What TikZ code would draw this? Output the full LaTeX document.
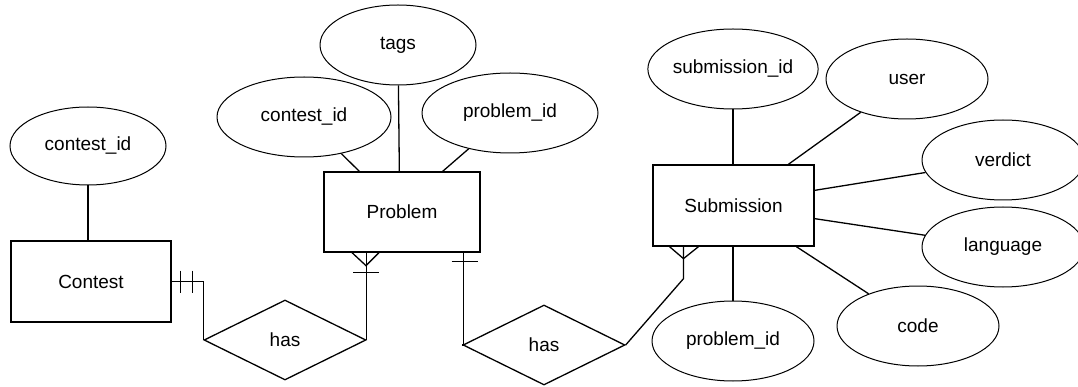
\documentclass[tikz,border=0pt]{standalone}
\usepackage{fontspec}
\setmainfont{Liberation Sans}
\usetikzlibrary{shapes.geometric}
\tikzset{
  attr/.style={draw, ellipse, line width=1pt, inner sep=0pt, minimum width=162pt, minimum height=80pt, font=\fontsize{19}{22}\selectfont},
  entity/.style={draw, rectangle, line width=1.3pt, inner sep=0pt, font=\fontsize{19}{22}\selectfont},
  rel/.style={draw, diamond, line width=1.3pt, inner sep=0pt, minimum width=162pt, minimum height=80pt, font=\fontsize{19}{22}\selectfont},
  link/.style={line width=1.3pt},
}
\begin{document}
\begin{tikzpicture}[x=1pt,y=-1pt]
\useasboundingbox (0,0) rectangle (1078,387);
% entities
\node[entity, minimum width=160pt, minimum height=81pt] (contest) at (91,281.5) {Contest};
\node[entity, minimum width=156pt, minimum height=80pt] (problem) at (402,212) {Problem};
\node[entity, minimum width=161pt, minimum height=81pt] (submission) at (733.5,205.5) {Submission};
% attributes
\node[attr, minimum width=156pt, minimum height=78pt] (ccid) at (88,146) {contest\_id};
\node[attr, minimum width=156pt] (tags) at (398,45) {tags};
\node[attr, minimum width=174pt] (pcid) at (304,117) {contest\_id};
\node[attr, minimum width=176pt] (ppid) at (510,113) {problem\_id};
\node[attr] (sid) at (733,69) {submission\_id};
\node[attr] (user) at (907,79) {user};
\node[attr] (verdict) at (1003,160) {verdict};
\node[attr] (language) at (1003,247) {language};
\node[attr] (code) at (918,326) {code};
\node[attr] (spid) at (733,341) {problem\_id};
% relationships
\node[rel] (has1) at (285,340) {has};
\node[rel] (has2) at (544,345) {has};
% attribute links
\draw[link] (ccid) -- (ccid |- contest.north);
\draw[link] (tags) -- ([xshift=76pt]problem.north west);
\draw[link] (pcid) -- ([xshift=36pt]problem.north west);
\draw[link] (ppid) -- ([xshift=-38pt]problem.north east);
\draw[link] (sid) -- (sid |- submission.north);
\draw[link] (user) -- ([xshift=136pt]submission.north west);
\draw[link] (verdict) -- ([yshift=-26pt]submission.north east);
\draw[link] (language) -- ([yshift=28pt]submission.south east);
\draw[link] (code) -- ([xshift=144pt]submission.south west);
\draw[link] (spid) -- (spid |- submission.south);
% Contest -- has1 (one and only one)
\draw[link] (contest.east) -| (has1.west);
\coordinate (ce) at (contest.east);
\draw[link] ([xshift=9pt,yshift=11pt]ce) -- ([xshift=9pt,yshift=-11pt]ce);
\draw[link] ([xshift=21pt,yshift=11pt]ce) -- ([xshift=21pt,yshift=-11pt]ce);
% has1 -- Problem (one or many)
\coordinate (pf) at ([xshift=-36pt]problem.south);
\draw[link] (has1.east) -- (has1.east |- pf);
\draw[link] ([xshift=-14pt]pf) -- ([yshift=-13pt]pf) -- ([xshift=13pt]pf);
\draw[link] ([xshift=-13pt,yshift=-20pt]pf) -- ([xshift=13pt,yshift=-20pt]pf);
% Problem -- has2 (one)
\coordinate (pb) at ([xshift=-17pt]problem.south east);
\draw[link] (pb) -- (pb |- has2.west) -- (has2.west);
\draw[link] ([xshift=-12pt,yshift=-9pt]pb) -- ([xshift=14pt,yshift=-9pt]pb);
% has2 -- Submission (many)
\coordinate (sf) at ([xshift=-50pt]submission.south);
\coordinate (sk) at ([yshift=-32pt]sf);
\draw[link] (has2.east) -- (sk) -- (sf);
\draw[link] ([xshift=-14pt]sf) -- ([yshift=-12pt]sf) -- ([xshift=15pt]sf);
\end{tikzpicture}
\end{document}
